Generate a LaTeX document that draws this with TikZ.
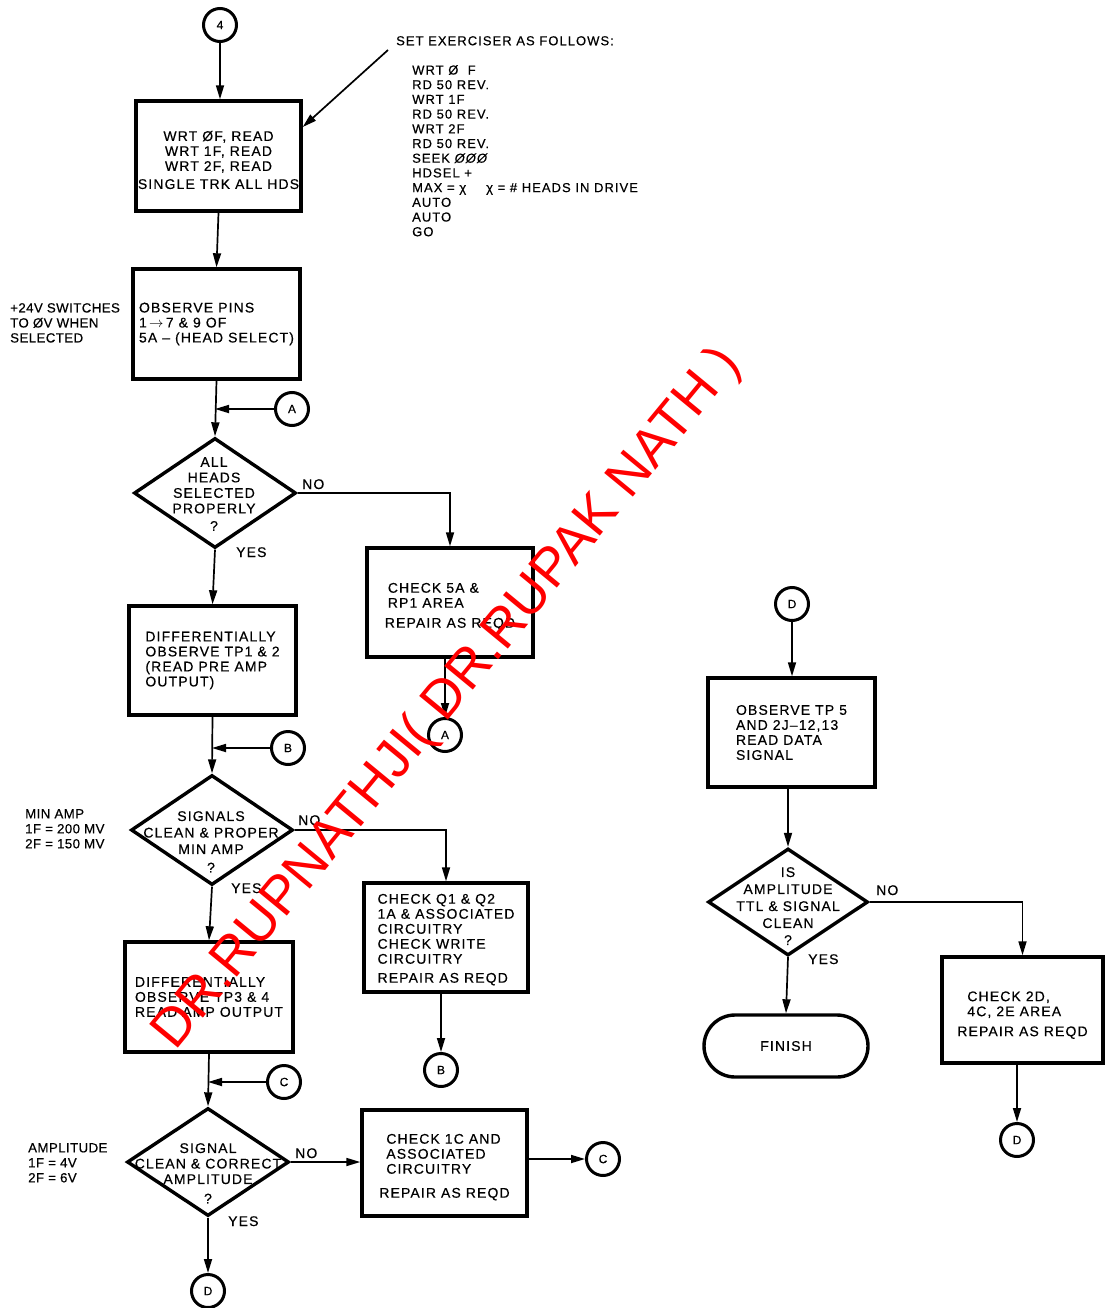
\documentclass[tikz,border=0pt]{standalone}
\usepackage{fontspec}
\setmainfont{Liberation Sans}
\newfontfamily\lblfont[LetterSpace=8,FakeBold=0.4]{Liberation Sans}
\newfontfamily\notefont[LetterSpace=3,FakeBold=0.4]{Liberation Sans}
\usetikzlibrary{arrows.meta,shapes.geometric}
\newcommand{\lbl}{\lblfont\fontsize{14}{15}\selectfont}
\newcommand{\arw}{\,$\rightarrow$\,}
\newcommand{\dn}[1]{\rule{0pt}{#1}}
\begin{document}
\begin{tikzpicture}[x=1pt,y=-1pt,
  every node/.style={font=\lbl, inner sep=0pt},
  box/.style={draw, line width=3.4pt, align=left, inner sep=1pt},
  dia/.style={diamond, draw, line width=3.4pt, inner sep=0pt, aspect=1.47},
  circ/.style={circle, draw, line width=3pt, minimum size=33pt, inner sep=0pt, font=\lblfont\fontsize{12}{12}\selectfont},
  txt/.style={align=left, anchor=north west},
  note/.style={txt, font=\notefont\fontsize{13.3}{15}\selectfont},
  ctxt/.style={align=center, anchor=north},
  yn/.style={anchor=base west},
  arr/.style={line width=1.7pt, -{Triangle[length=14pt,width=8pt]}},
  wm/.style={text=red, font=\fontsize{54}{54}\selectfont}
]
\useasboundingbox[fill=white] (0,0) rectangle (1106,1308);

% ---------- left column ----------
\node[circ] (c4) at (220,25) {4};
\node[box, align=center, minimum width=165pt, minimum height=110pt] (b1) at (218.5,156)
  {\dn{18pt}WRT ØF, READ\\WRT 1F, READ\\WRT 2F, READ\\[3pt]SINGLE TRK ALL HDS};

\node[txt, font=\lblfont\fontsize{13}{14.7}\selectfont] (exh) at (396,36) {SET EXERCISER AS FOLLOWS:};
\node[txt, font=\lblfont\fontsize{13}{14.7}\selectfont] (exl) at (412,65)
  {WRT Ø\ \ F\\RD 50 REV.\\WRT 1F\\RD 50 REV.\\WRT 2F\\RD 50 REV.\\SEEK \textit{ØØØ}\\HDSEL +\\MAX = χ\hspace{20pt}χ = \# HEADS IN DRIVE\\AUTO\\AUTO\\GO};
\coordinate (exs) at (388,50);

\node[box, minimum width=167pt, minimum height=110pt] (b2) at (216.5,324)
  {OBSERVE PINS\\1\arw 7 \& 9 OF\\5A – (HEAD SELECT)};
\node[note] (n24) at (10,303) {+24V SWITCHES\\TO ØV WHEN\\SELECTED};

\node[circ] (cA1) at (292,409) {A};
\node[dia, minimum width=162pt, minimum height=110pt] (d1) at (215,493) {};
\node[ctxt, font=\lblfont\fontsize{14}{15.5}\selectfont] (t1) at (214,457) {ALL\\HEADS\\SELECTED\\PROPERLY\\[2pt]?};
\node[yn] (no1) at (302,489) {NO};
\node[yn] (yes1) at (236,557) {YES};

\node[box, minimum width=166pt, minimum height=109pt] (b3) at (450,602.5)
  {\dn{18pt}\hspace*{3pt}CHECK 5A \&\\\hspace*{3pt}RP1 AREA\\[5pt]REPAIR AS REQD};
\node[circ] (cA2) at (445,735) {A};

\node[box, minimum width=167pt, minimum height=109pt] (b4) at (212.5,660.5)
  {DIFFERENTIALLY\\OBSERVE TP1 \& 2\\(READ PRE AMP\\OUTPUT)};
\node[circ] (cB1) at (288,748) {B};
\node[dia, minimum width=162pt, minimum height=110pt] (d2) at (212,830) {};
\node[ctxt, font=\lblfont\fontsize{14}{16.5}\selectfont] (t2) at (211,811) {SIGNALS\\CLEAN \& PROPER\\MIN AMP\\[2pt]?};
\node[note] (nmin) at (25,809) {MIN AMP\\1F = 200 MV\\2F = 150 MV};
\node[yn] (no2) at (298,825) {NO};
\node[yn] (yes2) at (231,893) {YES};

\node[box, minimum width=164pt, minimum height=109pt] (b5) at (446,937.5)
  {\dn{14pt}CHECK Q1 \& Q2\\1A \& ASSOCIATED\\CIRCUITRY\\CHECK WRITE\\CIRCUITRY\\[4pt]REPAIR AS REQD};
\node[circ] (cB2) at (441,1070) {B};

\node[box, minimum width=168pt, minimum height=110pt] (b6) at (209,997)
  {DIFFERENTIALLY\\OBSERVE TP3 \& 4\\READ AMP OUTPUT};
\node[circ] (cC1) at (284,1082) {C};
\node[dia, minimum width=162pt, minimum height=108pt] (d3) at (208,1162) {};
\node[ctxt, font=\lblfont\fontsize{14}{15.5}\selectfont] (t3) at (208,1143) {SIGNAL\\CLEAN \& CORRECT\\AMPLITUDE\\[4pt]?};
\node[note] (namp) at (28,1143) {AMPLITUDE\\1F = 4V\\2F = 6V};
\node[yn] (no3) at (295,1158) {NO};
\node[yn] (yes3) at (228,1226) {YES};

\node[box, minimum width=165pt, minimum height=106pt] (b7) at (444.5,1163)
  {\dn{18pt}\hspace*{7pt}CHECK 1C AND\\\hspace*{7pt}ASSOCIATED\\\hspace*{7pt}CIRCUITRY\\[9pt]REPAIR AS REQD};
\node[circ] (cC2) at (603,1159) {C};
\node[circ] (cD1) at (208,1291) {D};

% ---------- right column ----------
\node[circ] (cD2) at (792,604) {D};
\node[box, minimum width=167pt, minimum height=109pt] (b8) at (791.5,732.5)
  {OBSERVE TP 5\\AND 2J–12,13\\READ DATA\\SIGNAL};
\node[dia, minimum width=160pt, minimum height=107pt] (d4) at (788,902) {};
\node[ctxt, font=\lblfont\fontsize{14}{17}\selectfont] (t4) at (788,867) {IS\\AMPLITUDE\\TTL \& SIGNAL\\CLEAN\\?};
\node[yn] (no4) at (876,895) {NO};
\node[yn] (yes4) at (808,964) {YES};
\node[box, minimum width=161pt, minimum height=106pt] (b9) at (1022.5,1010)
  {\dn{20pt}\hspace*{10pt}CHECK 2D,\\\hspace*{10pt}4C, 2E AREA\\[5pt]REPAIR AS REQD};
\node[circ] (cD3) at (1017,1140) {D};
\node[draw, line width=3.4pt, rounded corners=31pt, minimum width=164pt, minimum height=62pt] (fin) at (786,1046) {FINISH};

% ---------- connectors ----------
\draw[arr] (c4) -- (c4 |- b1.north);
\draw[arr] (exs) -- (b1.19);
\draw[arr] (b1.south) -- (b2.north);
\draw[arr] (b2.south) -- (d1.north);
\draw[arr] (cA1) -- (cA1 -| d1.north);
\draw[arr] (d1.east) -| (b3.north);
\draw[arr] (b3.south -| cA2) -- (cA2);
\draw[arr] (d1.south) -- (b4.north);
\draw[arr] (b4.south) -- (d2.north);
\draw[arr] (cB1) -- (cB1 -| d2.north);
\draw[arr] (d2.east) -| (b5.north);
\draw[arr] (b5.south -| cB2) -- (cB2);
\draw[arr] (d2.south) -- (b6.north);
\draw[arr] (b6.south) -- (d3.north);
\draw[arr] (cC1) -- (cC1 -| d3.north);
\draw[arr] (d3.east) -- (d3.east -| b7.west);
\draw[arr] (b7.east |- cC2) -- (cC2);
\draw[arr] (d3.south) -- (cD1);
\draw[arr] (cD2) -- (cD2 |- b8.north);
\draw[arr] (b8.south -| d4) -- (d4.north);
\draw[arr] (d4.east) -| (b9.north);
\draw[arr] (b9.south -| cD3) -- (cD3);
\draw[arr] (d4.south) -- (fin.north);

% ---------- watermark ----------
\node[wm, rotate=50.5, anchor=base] (wmk) at (459,708) {DR.RUPNATHJI( DR.RUPAK NATH )};
\end{tikzpicture}
\end{document}
